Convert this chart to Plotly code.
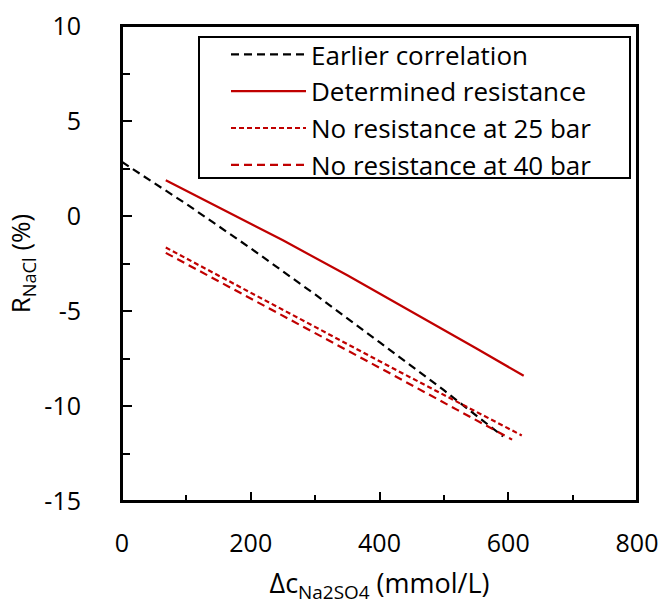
import plotly.graph_objects as go

# Earlier correlation
x_earlier = [0, 100, 200, 300, 400, 500, 592]
y_earlier = [2.84, 0.63, -1.70, -4.13, -6.64, -9.17, -11.6]

# Determined resistance
x_determined = [68, 150, 250, 350, 450, 550, 624]
y_determined = [1.88, 0.45, -1.28, -3.12, -5.02, -6.96, -8.41]

# No resistance at 25 bar
x_25bar = [68, 200, 310, 420, 520, 621]
y_25bar = [-1.66, -4.05, -6.05, -8.0, -9.77, -11.55]

# No resistance at 40 bar
x_40bar = [68, 200, 310, 420, 520, 606]
y_40bar = [-1.94, -4.33, -6.33, -8.35, -10.19, -11.77]

# Axis tick labels
x_tickvals = [0, 200, 400, 600, 800]
x_ticktext = ["0", "200", "400", "600", "800"]
y_tickvals = [-15, -10, -5, 0, 5, 10]
y_ticktext = ["-15", "-10", "-5", "0", "5", "10"]

RED = "#C00000"
FONT = "Open Sans"

fig = go.Figure()
fig.add_trace(go.Scatter(x=x_earlier, y=y_earlier, mode="lines", name="Earlier correlation",
                         line=dict(color="black", width=2.2, dash="8px,5px")))
fig.add_trace(go.Scatter(x=x_determined, y=y_determined, mode="lines", name="Determined resistance",
                         line=dict(color=RED, width=2.2)))
fig.add_trace(go.Scatter(x=x_25bar, y=y_25bar, mode="lines", name="No resistance at 25 bar",
                         line=dict(color=RED, width=2.2, dash="5px,3px")))
fig.add_trace(go.Scatter(x=x_40bar, y=y_40bar, mode="lines", name="No resistance at 40 bar",
                         line=dict(color=RED, width=2.2, dash="8px,5px")))

# plot area in page pixels: x 122..637, y 26..501 (body margin removed below)
PL, PR, PT, PB = 122, 637, 26, 501
W, H = 662, 606

def px_x(p):
    return (p - PL) / float(PR - PL)

def px_y(p):
    return 1 - (p - PT) / float(PB - PT)

fig.update_layout(
    width=W, height=H,
    margin=dict(l=PL, r=W - PR, t=PT, b=H - PB),
    paper_bgcolor="white", plot_bgcolor="white",
    font=dict(family=FONT, size=25, color="black"),
    showlegend=True,
    legend=dict(
        x=px_x(226), y=px_y(31), xanchor="left", yanchor="top",
        borderwidth=0, bgcolor="rgba(0,0,0,0)",
        font=dict(family=FONT, size=26, color="black"),
        itemwidth=75,
    ),
    shapes=[
        dict(type="rect", xref="paper", yref="paper",
             x0=px_x(199), x1=px_x(630), y0=px_y(178), y1=px_y(37),
             line=dict(color="black", width=2), fillcolor="rgba(0,0,0,0)", layer="above"),
        dict(type="rect", xref="paper", yref="paper", x0=0, x1=1, y0=0, y1=1,
             line=dict(color="black", width=2), fillcolor="rgba(0,0,0,0)", layer="above"),
    ],
    xaxis=dict(
        range=[0, 800], tickmode="array", tickvals=x_tickvals, ticktext=x_ticktext,
        showgrid=False, zeroline=False, automargin=False,
        showline=True, linecolor="black", linewidth=2, mirror=True,
        ticks="inside", ticklen=9, tickwidth=2, tickcolor="black",
        minor=dict(dtick=100, tick0=0, ticks="inside", ticklen=6, tickwidth=2, tickcolor="black", showgrid=False),
        ticklabelstandoff=19, ticklabeloverflow="allow",
        tickfont=dict(family=FONT, size=25),
        title=dict(text="Δc<sub>Na2SO4</sub> (mmol/L)", font=dict(family=FONT, size=27), standoff=16),
    ),
    yaxis=dict(
        range=[-15, 10], tickmode="array", tickvals=y_tickvals, ticktext=y_ticktext,
        showgrid=False, zeroline=False, automargin=False,
        showline=True, linecolor="black", linewidth=2, mirror=True,
        ticks="inside", ticklen=10, tickwidth=2, tickcolor="black",
        minor=dict(dtick=2.5, tick0=0, ticks="inside", ticklen=8, tickwidth=2, tickcolor="black", showgrid=False),
        ticklabelstandoff=34, ticklabeloverflow="allow",
        tickfont=dict(family=FONT, size=25),
        title=dict(text="R<sub>NaCl</sub> (%)", font=dict(family=FONT, size=26), standoff=6),
    ),
)

fig.write_html("out.html", config={"displayModeBar": False},
               post_script="document.body.style.margin='0px';")
